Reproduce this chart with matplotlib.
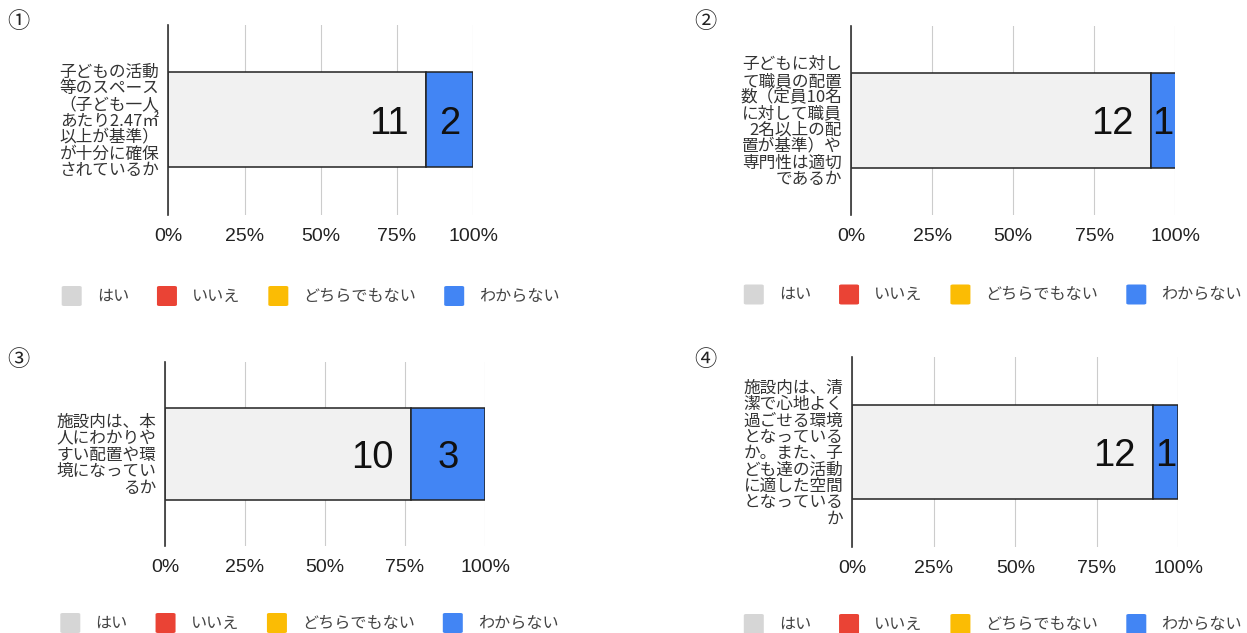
import matplotlib
matplotlib.use('Agg')
import matplotlib.pyplot as plt
from matplotlib.patches import FancyBboxPatch

# ---------------- data ----------------
series_names = ['はい', 'いいえ', 'どちらでもない', 'わからない']
series_colors = ['#f1f1f1', '#ea4335', '#fbbc04', '#4285f4']
legend_colors = ['#d6d6d6', '#ea4335', '#fbbc04', '#4285f4']

panel_numbers = ['①', '②', '③', '④']
questions = [
    '子どもの活動\n等のスペース\n（子ども一人\nあたり2.47㎡\n以上が基準）\nが十分に確保\nされているか',
    '子どもに対し\nて職員の配置\n数（定員10名\nに対して職員\n2名以上の配\n置が基準）や\n専門性は適切\nであるか',
    '施設内は、本\n人にわかりや\nすい配置や環\n境になってい\nるか',
    '施設内は、清\n潔で心地よく\n過ごせる環境\nとなっている\nか。また、子\nども達の活動\nに適した空間\nとなっている\nか',
]
hai = [11, 12, 10, 12]
iie = [0, 0, 0, 0]
dochira = [0, 0, 0, 0]
wakaranai = [2, 1, 3, 1]
x_ticks = [0, 25, 50, 75, 100]
x_tick_labels = ['0%', '25%', '50%', '75%', '100%']

# ---------------- layout (pixels) ----------------
W, H = 1247, 633
DPI = 100
axes_px = [  # x0, x1, y0(top), y1(bottom)
    (168.3, 473.3, 25.0, 215.0),
    (851.0, 1175.5, 26.0, 215.0),
    (165.0, 485.0, 361.7, 546.0),
    (852.3, 1178.3, 357.3, 546.7),
]
legend_px = [(61.7, 296.0), (743.8, 294.5), (60.3, 623.0), (743.8, 624.0)]
number_px = [(18.0, 21.0), (705.0, 21.0), (18.0, 359.0), (705.0, 359.0)]

CJK = ['Noto Sans CJK JP', 'DejaVu Sans']
LAT = ['Liberation Sans', 'Noto Sans CJK JP', 'DejaVu Sans']
plt.rcParams['font.family'] = CJK

fig = plt.figure(figsize=(W / DPI, H / DPI), dpi=DPI)
fig.patch.set_facecolor('white')


def fx(x):
    return x / W


def fy(y):
    return 1 - y / H


renderer = fig.canvas.get_renderer()
series_values = [hai, iie, dochira, wakaranai]

for i in range(4):
    x0, x1, y0, y1 = axes_px[i]
    ax = fig.add_axes([fx(x0), fy(y1), fx(x1 - x0), (y1 - y0) / H])
    ax.set_xlim(0, 100)
    ax.set_ylim(-1, 1)
    total = sum(s[i] for s in series_values)
    left = 0.0
    ax_w = x1 - x0
    for k, s in enumerate(series_values):
        v = s[i]
        if v == 0:
            continue
        pct = v / total * 100
        ax.barh([0], [pct], left=left, height=1.0, color=series_colors[k],
                edgecolor='#222222', linewidth=1.1, zorder=3)
        seg_px = pct / 100 * ax_w
        if seg_px > 120:
            ax.annotate(str(v), xy=(left + pct, 0), xytext=(-12.5, 0),
                        textcoords='offset points', ha='right', va='center_baseline',
                        fontsize=27.5, family=LAT, color='#111111', zorder=4)
        else:
            ax.annotate(str(v), xy=(left + pct / 2, 0), xytext=(0, 0),
                        textcoords='offset points', ha='center', va='center_baseline',
                        fontsize=27.5, family=LAT, color='#111111', zorder=4)
        left += pct

    ax.set_xticks(x_ticks)
    ax.set_xticklabels(x_tick_labels, family=LAT, fontsize=14, color='#222222')
    ax.set_yticks([0])
    ax.set_yticklabels([questions[i]], fontsize=12, color='#333333',
                       linespacing=0.95)
    ax.tick_params(axis='x', length=0, pad=9.5)
    ax.tick_params(axis='y', length=0, pad=6.5)
    ax.grid(axis='x', color='#cccccc', linewidth=0.8, zorder=0)
    ax.set_axisbelow(True)
    for sp in ['top', 'right', 'bottom']:
        ax.spines[sp].set_visible(False)
    ax.spines['left'].set_color('#333333')
    ax.spines['left'].set_linewidth(1.2)
    ax.spines['left'].set_zorder(5)
    ax.set_facecolor('none')

    # circled number
    nx, ny = number_px[i]
    fig.text(fx(nx), fy(ny), panel_numbers[i], ha='center', va='center',
             fontsize=16, color='#222222', family=CJK)

    # legend
    lx, ly = legend_px[i]
    cur = lx
    for k, name in enumerate(series_names):
        sq = FancyBboxPatch((fx(cur), fy(ly + 10)), fx(20), 20 / H,
                            boxstyle='round,pad=0,rounding_size=0.002',
                            transform=fig.transFigure, facecolor=legend_colors[k],
                            edgecolor='none')
        fig.patches.append(sq)
        t = fig.text(fx(cur + 35), fy(ly), name, ha='left', va='center',
                     fontsize=11.6, color='#444444', family=CJK)
        bb = t.get_window_extent(renderer)
        cur = bb.x1 + 28

fig.savefig('out.png', dpi=DPI, facecolor='white')
